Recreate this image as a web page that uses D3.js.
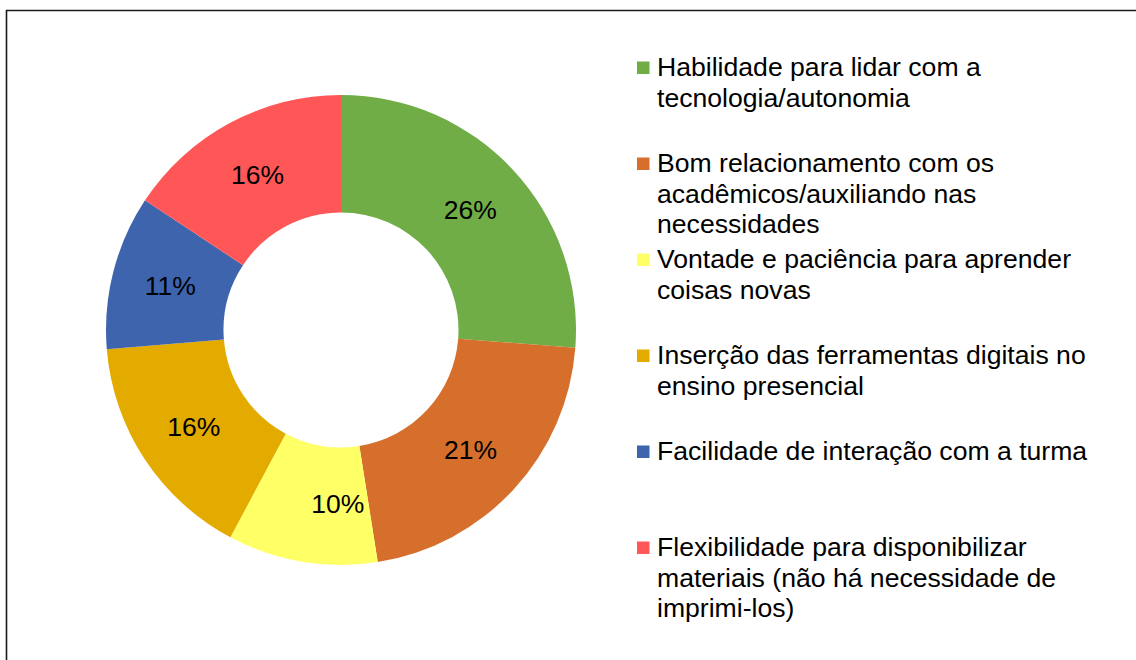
<!DOCTYPE html>
<html>
<head>
<meta charset="utf-8">
<script src="https://cdn.jsdelivr.net/npm/d3@7"></script>
<style>
  html, body { margin: 0; padding: 0; background: #fff; }
  svg { display: block; }
  text { font-family: "Liberation Sans", Arial, sans-serif; fill: #000; }
</style>
</head>
<body>
<svg id="chart" width="1136" height="660"></svg>
<script>
// ---- data ----
const categories = [
  "Habilidade para lidar com a\ntecnologia/autonomia",
  "Bom relacionamento com os\nacadêmicos/auxiliando nas\nnecessidades",
  "Vontade e paciência para aprender\ncoisas novas",
  "Inserção das ferramentas digitais no\nensino presencial",
  "Facilidade de interação com a turma",
  "Flexibilidade para disponibilizar\nmateriais (não há necessidade de\nimprimi-los)"
];
// shares (%); labels show them rounded
const values = [26.2, 21.3, 10.3, 15.9, 10.6, 15.7];
const colors = ["#70AD47", "#D56F2B", "#FFFF66", "#E3AA00", "#3E64AE", "#FF5757"];

// ---- layout ----
const svg = d3.select("#chart");
const W = 1136, H = 660;
const cx = 341, cy = 330, rOuter = 235, rInner = 117.5;

// frame
svg.append("path")
  .attr("d", `M6.5,${H} L6.5,10.5 L${W},10.5`)
  .attr("fill", "none")
  .attr("stroke", "#1a1a1a")
  .attr("stroke-width", 1.6);

const data = categories.map((c, i) => ({ name: c, value: values[i], color: colors[i] }));

const pie = d3.pie().value(d => d.value).sort(null);
const arc = d3.arc().innerRadius(rInner).outerRadius(rOuter);
const labelArc = d3.arc().innerRadius((rInner + rOuter) / 2).outerRadius((rInner + rOuter) / 2);

const g = svg.append("g").attr("transform", `translate(${cx},${cy})`);
const arcs = pie(data);

g.selectAll("path.slice")
  .data(arcs)
  .join("path")
  .attr("class", "slice")
  .attr("d", arc)
  .attr("fill", d => d.data.color);

// the small yellow slice's label sits a little to the right in the original
const labelNudge = (i) => (i === 2 ? [26, 0] : [0, 0]);

const total = d3.sum(values);
g.selectAll("text.pct")
  .data(arcs)
  .join("text")
  .attr("class", "pct")
  .attr("transform", (d, i) => {
    const [x, y] = labelArc.centroid(d);
    const [nx, ny] = labelNudge(i);
    return `translate(${x + nx},${y + ny})`;
  })
  .attr("text-anchor", "middle")
  .attr("dy", "0.35em")
  .style("font-size", "26.5px")
  .text(d => d3.format(".0%")(d.data.value / total));

// legend
const legX = 637, textX = 657, base0 = 76, step = 96, lineH = 30.5;
const leg = svg.append("g");
data.forEach((d, i) => {
  const by = base0 + i * step;
  leg.append("rect")
    .attr("x", legX).attr("y", by - 14.5)
    .attr("width", 12.5).attr("height", 12.5)
    .attr("fill", d.color);
  const t = leg.append("text")
    .attr("x", textX).attr("y", by)
    .style("font-size", "26.6px");
  d.name.split("\n").forEach((ln, j) => {
    t.append("tspan").attr("x", textX).attr("y", by + j * lineH).text(ln);
  });
});
</script>
</body>
</html>
